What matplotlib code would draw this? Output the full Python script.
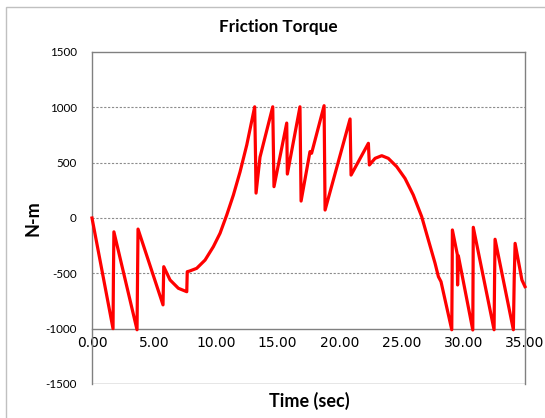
import matplotlib
matplotlib.use("Agg")
import matplotlib.pyplot as plt
from matplotlib.patches import Rectangle

# time (sec) and friction torque (N-m)
time_s = [0.00, 1.70, 1.73, 1.77, 3.64, 3.68, 3.72, 5.74, 5.80, 6.31, 6.98, 7.66,
          7.70, 7.87, 8.46, 9.14, 9.81, 10.35, 10.89, 11.43, 11.97, 12.51, 13.15,
          13.22, 13.26, 13.58, 14.61, 14.71, 15.74, 15.79, 16.81, 16.90, 17.62,
          17.75, 18.76, 18.80, 18.84, 20.86, 20.94, 22.34, 22.42, 22.88, 23.42,
          23.95, 24.63, 25.30, 25.97, 26.65, 27.19, 27.73, 28.00, 28.21, 29.08,
          29.11, 29.13, 29.53, 29.55, 29.61, 30.78, 30.80, 30.82, 32.50, 32.54,
          32.58, 34.06, 34.13, 34.20, 34.75, 35.00]
torque = [0, -1000, -545, -125, -1010, -540, -100, -785, -440, -560, -635, -666,
          -485, -480, -455, -380, -259, -138, 27, 208, 418, 660, 1005,
          540, 225, 550, 1005, 283, 858, 397, 1005, 153, 600,
          585, 1015, 540, 72, 895, 388, 675, 479, 539, 563,
          539, 464, 358, 208, 12, -199, -409, -530, -575, -1010,
          -545, -108, -330, -605, -340, -1012, -545, -84, -1010, -555,
          -192, -1010, -540, -229, -560, -620]

x_ticks = [0, 5, 10, 15, 20, 25, 30, 35]
y_ticks = [-1500, -1000, -500, 0, 500, 1000, 1500]

fig = plt.figure(figsize=(5.45, 4.18), dpi=100)
ax = fig.add_axes([92 / 545, 34 / 418, 433 / 545, 332 / 418])

# outer chart border
fig.patches.append(Rectangle((6 / 545, -0.1), 2, 1 - 7 / 418 + 0.1,
                             transform=fig.transFigure, fill=False,
                             edgecolor="#c0c0c0", linewidth=1))

ax.plot(time_s, torque, color="#ff0000", linewidth=2.3, clip_on=False,
        solid_joinstyle="round", zorder=3)

ax.set_xlim(0, 35)
ax.set_ylim(-1500, 1500)
ax.set_xticks(x_ticks)
ax.set_xticklabels(["%.2f" % t for t in x_ticks], family="Liberation Serif",
                   fontsize=8, color="#505050")
ax.set_yticks(y_ticks)
ax.set_yticklabels([str(v) for v in y_ticks], family="Lato", fontsize=8.4)
ax.tick_params(axis="both", length=0)
ax.tick_params(axis="x", pad=5)
ax.tick_params(axis="y", pad=11)

for v in [-500, 0, 500, 1000]:
    ax.axhline(v, color="#8c8c8c", linewidth=0.8, linestyle=(0, (2, 1.5)), zorder=1)
ax.axhline(-1500, color="#808080", linewidth=1, zorder=2)

for side in ["left", "right", "top", "bottom"]:
    ax.spines[side].set_color("#808080")
    ax.spines[side].set_linewidth(1)
ax.spines["bottom"].set_position(("data", -1000))

fig.text(278 / 545, 1 - 27 / 418, "Friction Torque", family="Lato",
         fontweight="bold", fontsize=12.3, ha="center", va="center")
fig.text(309 / 545, 1 - 401 / 418, "Time (sec)", family="Lato",
         fontweight="bold", fontsize=13, ha="center", va="center")
fig.text(33 / 545, 1 - 218 / 418, "N-m", family="Lato", fontweight="bold",
         fontsize=13, ha="center", va="center", rotation=90)

fig.savefig("out.png", dpi=100)
